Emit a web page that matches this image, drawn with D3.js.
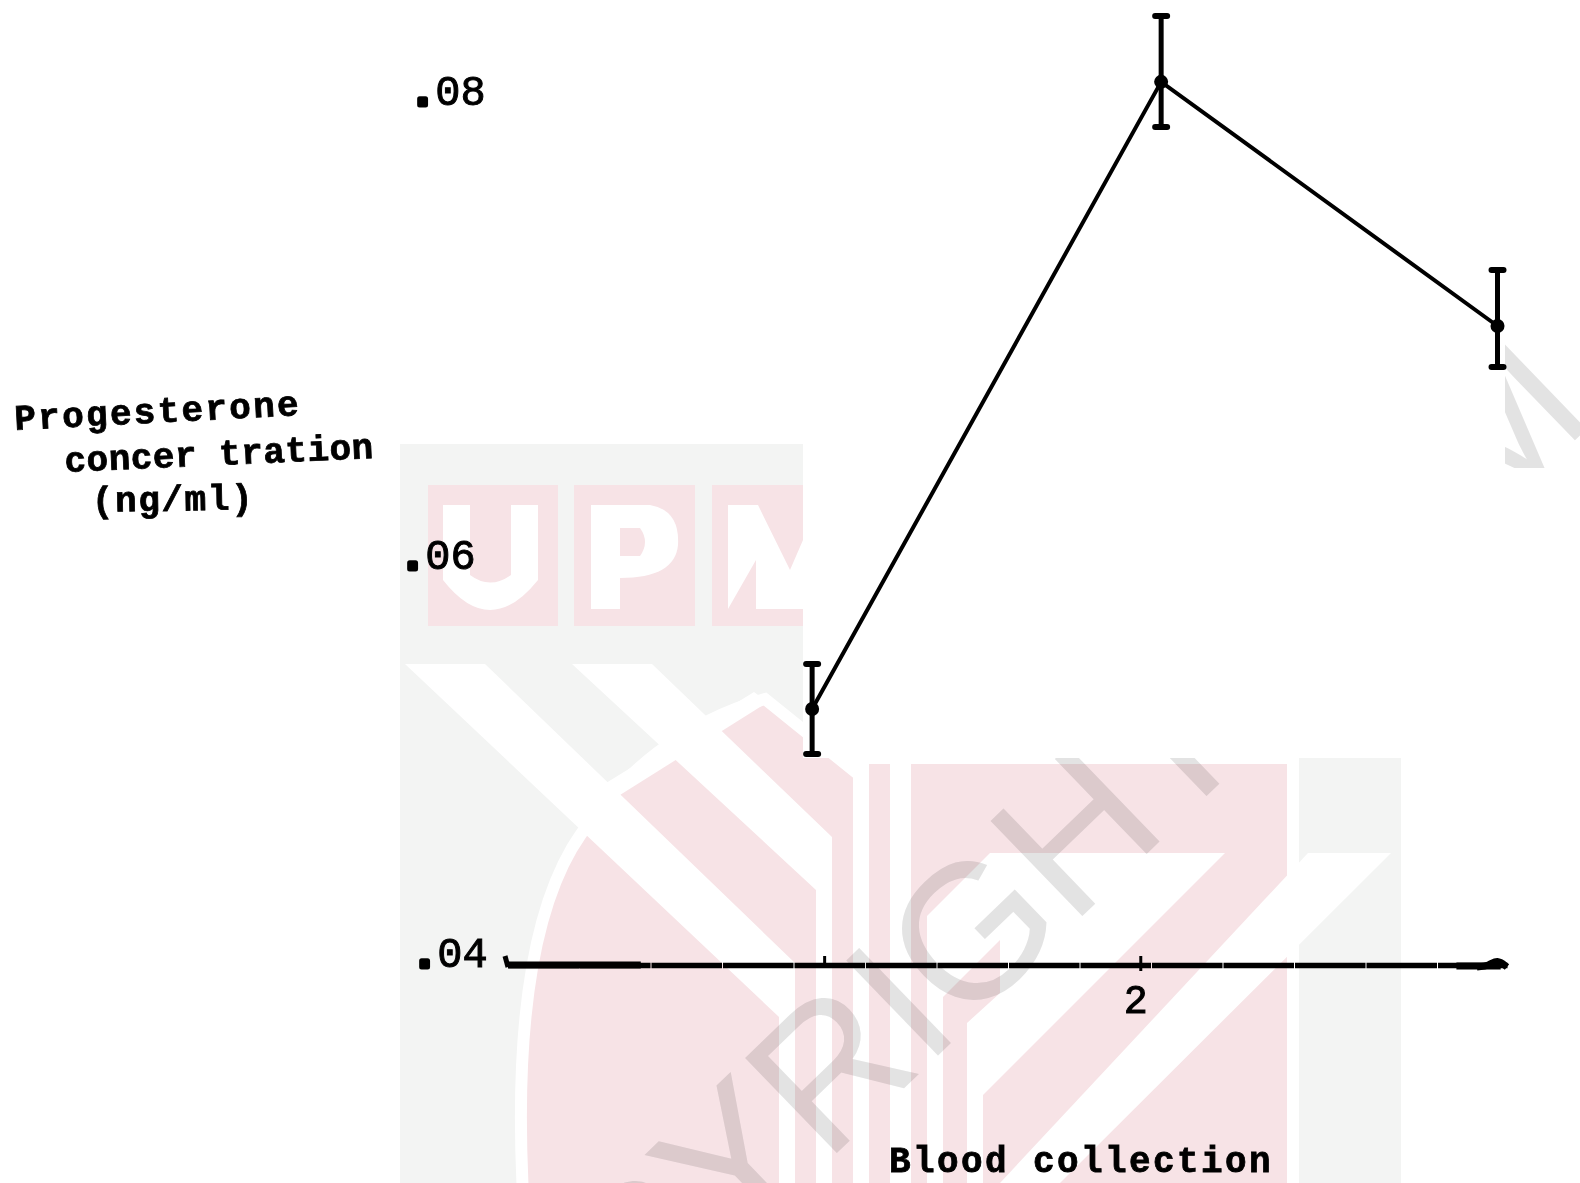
<!DOCTYPE html>
<html>
<head>
<meta charset="utf-8">
<script src="https://cdn.jsdelivr.net/npm/d3@7"></script>
<style>
  html, body { margin: 0; background: #fff; }
  svg { display: block; }
  text { font-family: "Liberation Mono", monospace; fill: #000; }
  .title { font-size: 36px; font-weight: bold; stroke: #000; stroke-width: 0.8; }
</style>
</head>
<body>
<svg width="1580" height="1183"></svg>
<script>
const tickValuesY = [0.04, 0.06, 0.08];
const tickLabelsY = [".04", ".06", ".08"];
const tickValuesX = [1, 2];
const tickLabelsX = ["", "2"];
const collection = [0.962, 2.066, 3.13];
const meanConc = [0.05264, 0.0807, 0.07013];
const upperConc = [0.05486, 0.08355, 0.07255];
const lowerConc = [0.05042, 0.07874, 0.06835];
const yTitleLines = ["Progesterone", "concer tration", "(ng/ml)"];
const xTitle = "Blood collection";

const svg = d3.select("svg");

// typed labels on the scan do not sit on a straight line
const labelNudge = { 0.04: [-538, 1], 0.06: [-550, 8], 0.08: [-540, 6] };

// y axis on the paper is not evenly spaced, so the scale is piecewise
const yScale = d3.scaleLinear().domain(tickValuesY).range([965, 560, 98]);
const xScale = d3.scaleLinear().domain([0, 3.16]).range([508, 1507]);

// ---- faint watermark behind the scan ----
const wm = svg.append("g");
const grey = "#f3f4f3";
const pink = "#f7e3e6";
const poly = (pts, fill) =>
  wm.append("polygon").attr("points", pts.join(" ")).attr("fill", fill);

wm.append("rect").attr("x", 400).attr("y", 444).attr("width", 1001).attr("height", 739).attr("fill", grey);
wm.append("path")
  .attr("d", "M523 1195 C515 1040 530 920 572 848 C620 770 690 720 765 699 L853 770 L853 758 L1293 758 L1293 1195 Z")
  .attr("fill", pink)
  .attr("stroke", "#fff")
  .attr("stroke-width", 12);

// UPM blocks
[[428, 130], [574, 121], [712, 91]].forEach(([x, w]) => {
  wm.append("rect").attr("x", x).attr("y", 485).attr("width", w).attr("height", 141).attr("fill", pink);
});
wm.append("path").attr("d", "M443 505 H470 V575 Q490 590 511 575 V505 H538 V580 Q490 640 443 580 Z").attr("fill", "#fff");
wm.append("path").attr("fill-rule", "evenodd")
  .attr("d", "M591 505 H650 Q680 510 678 545 Q675 578 620 578 V609 H591 Z M620 528 V556 H640 Q650 542 640 528 Z").attr("fill", "#fff");
poly(["728,505", "758,505", "790,570", "803,540", "803,609", "756,609", "756,560", "728,609"], "#fff");

// white bands of the crest, each ends in a vertical stripe
poly(["405,664", "485,664", "795,963", "795,1183", "779,1183", "779,1017"], "#fff");
poly(["572,664", "652,664", "832,837", "832,1183", "816,1183", "816,890"], "#fff");
poly(["754,692", "768,702", "620,795", "606,783"], "#fff");
poly(["853,758", "869,758", "869,1183", "853,1183"], "#fff");
poly(["890,758", "911,758", "911,1183", "890,1183"], "#fff");
poly(["990,853", "1225,853", "983,1095", "983,1183", "967,1183", "967,1023",
  "1000,993", "1000,940", "943,997", "943,1183", "927,1183", "927,916"], "#fff");
poly(["1308,853", "1391,853", "1060,1183", "1000,1183"], "#fff");

wm.append("text")
  .attr("transform", "translate(434,1542) rotate(-44)")
  .attr("font-size", 192)
  .style("font-family", "'Liberation Sans', sans-serif")
  .style("fill", "#e3e3e3")
  .style("mix-blend-mode", "multiply")
  .text("COPYRIGHT UPM");

// the scan itself is pasted white over the upper right
wm.append("rect").attr("x", 803).attr("y", 0).attr("width", 702).attr("height", 758).attr("fill", "#fff");
wm.append("rect").attr("x", 1505).attr("y", 468).attr("width", 75).attr("height", 290).attr("fill", "#fff");

// ---- axes ----
const xAxis = d3.axisBottom(xScale)
  .tickValues(tickValuesX)
  .tickSize(0)
  .tickFormat((d) => tickLabelsX[tickValuesX.indexOf(d)]);

const xG = svg.append("g").attr("transform", `translate(0, ${yScale(0.04)})`).call(xAxis);
xG.select(".domain")
  .attr("stroke", "#000")
  .attr("stroke-width", 5.5)
  .attr("stroke-dasharray", "70.5 1");
xG.selectAll(".tick line")
  .attr("y1", -9)
  .attr("y2", (d) => (d === 2 ? 6 : 0))
  .attr("stroke", "#000")
  .attr("stroke-width", 3);
xG.selectAll(".tick text")
  .attr("dx", -5)
  .attr("y", 48)
  .attr("dy", 0)
  .style("font-family", "'Liberation Mono', monospace")
  .style("font-size", "40px")
  .style("stroke", "#000")
  .style("stroke-width", 1);

// typed underscores overlap and look heavier at the left, hand marks at both ends
svg.append("line")
  .attr("x1", xScale(0)).attr("x2", xScale(0.42))
  .attr("y1", yScale(0.04)).attr("y2", yScale(0.04))
  .attr("stroke", "#000").attr("stroke-width", 7);
svg.append("line")
  .attr("x1", xScale(0) - 3).attr("x2", xScale(0))
  .attr("y1", yScale(0.04) - 9).attr("y2", yScale(0.04) + 2)
  .attr("stroke", "#000").attr("stroke-width", 5);
svg.append("line")
  .attr("x1", xScale(3)).attr("x2", xScale(3.14))
  .attr("y1", yScale(0.04) + 1).attr("y2", yScale(0.04) + 1)
  .attr("stroke", "#000").attr("stroke-width", 7);
svg.append("path")
  .attr("d", d3.line().curve(d3.curveBasis)([
    [xScale(3.16) - 30, yScale(0.04) + 2],
    [xScale(3.16) - 18, yScale(0.04) + 1],
    [xScale(3.16) - 10, yScale(0.04) - 6],
    [xScale(3.16), yScale(0.04) + 2],
  ]))
  .attr("fill", "none").attr("stroke", "#000").attr("stroke-width", 7);

const yAxis = d3.axisLeft(yScale)
  .tickValues(tickValuesY)
  .tickSize(0)
  .tickFormat((d) => tickLabelsY[tickValuesY.indexOf(d)]);

const yG = svg.append("g").attr("transform", "translate(950, 0)").call(yAxis);
yG.select(".domain").remove();
yG.selectAll(".tick text")
  .attr("text-anchor", "start")
  .attr("x", (d) => labelNudge[d][0])
  .attr("dy", (d) => labelNudge[d][1])
  .style("font-family", "'Liberation Mono', monospace")
  .style("font-size", "42px")
  .style("stroke", "#000")
  .style("stroke-width", 1)
  .text(null)
  .each(function (d, i) {
    const t = d3.select(this);
    const label = tickLabelsY[i];
    t.append("tspan")
      .style("font-weight", "bold")
      .style("stroke-width", 5)
      .style("stroke-linejoin", "round")
      .text(label[0]);
    t.append("tspan").text(label.slice(1));
  });

// ---- series ----
const points = collection.map((c, i) => ({
  c, mean: meanConc[i], hi: upperConc[i], lo: lowerConc[i],
}));

const line = d3.line().x((d) => xScale(d.c)).y((d) => yScale(d.mean));

svg.append("path")
  .datum(points)
  .attr("d", line)
  .attr("fill", "none")
  .attr("stroke", "#000")
  .attr("stroke-width", 4);

const marks = svg.selectAll("g.point").data(points).enter().append("g").attr("class", "point");

marks.append("line")
  .attr("x1", (d) => xScale(d.c)).attr("x2", (d) => xScale(d.c))
  .attr("y1", (d) => yScale(d.hi)).attr("y2", (d) => yScale(d.lo))
  .attr("stroke", "#000").attr("stroke-width", 5);

["hi", "lo"].forEach((k) => {
  marks.append("line")
    .attr("x1", (d) => xScale(d.c) - 6).attr("x2", (d) => xScale(d.c) + 6)
    .attr("y1", (d) => yScale(d[k])).attr("y2", (d) => yScale(d[k]))
    .attr("stroke", "#000").attr("stroke-width", 6).attr("stroke-linecap", "round");
});

marks.append("circle")
  .attr("cx", (d) => xScale(d.c))
  .attr("cy", (d) => yScale(d.mean))
  .attr("r", 7)
  .attr("fill", "#000");

// ---- typed titles ----
const titleSpots = [
  { x: 15, y: 430, a: -3, ls: 2.3 },
  { x: 65, y: 472, a: -2.6, ls: 0.5 },
  { x: 92, y: 512, a: -1, ls: 1.6 },
];
yTitleLines.forEach((t, i) => {
  const s = titleSpots[i];
  svg.append("text")
    .attr("class", "title")
    .attr("transform", `translate(${s.x},${s.y}) rotate(${s.a})`)
    .attr("letter-spacing", s.ls)
    .text(t);
});

svg.append("text")
  .attr("class", "title")
  .attr("x", 889)
  .attr("y", 1172)
  .attr("letter-spacing", 2.4)
  .text(xTitle);
</script>
</body>
</html>
